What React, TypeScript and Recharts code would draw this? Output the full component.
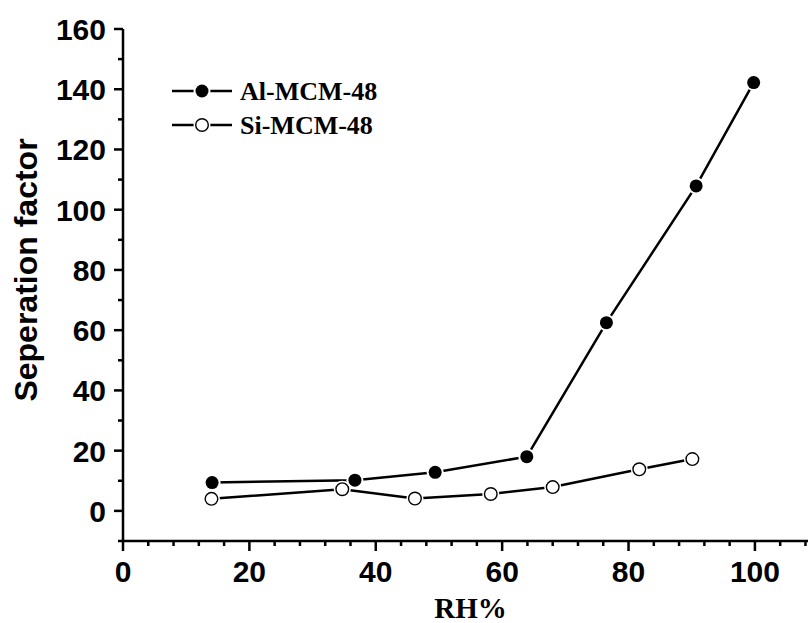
import { LineChart, Line, XAxis, YAxis, Legend, Label } from "recharts";

// Separation factor vs relative humidity for the two MCM-48 samples
const alRH = [14.1, 36.7, 49.4, 63.9, 76.5, 90.7, 99.8];
const alFactor = [9.4, 10.2, 12.8, 18.0, 62.5, 107.9, 142.2];
const siRH = [14.0, 34.7, 46.2, 58.2, 68.0, 81.7, 90.1];
const siFactor = [4.0, 7.2, 4.1, 5.6, 7.9, 13.8, 17.2];

const xTicks = [0, 4, 8, 12, 16, 20, 24, 28, 32, 36, 40, 44, 48, 52, 56, 60, 64, 68, 72, 76, 80, 84, 88, 92, 96, 100, 104, 108];
const xLabelled = [0, 20, 40, 60, 80, 100];
const yTicks = [-10, 0, 10, 20, 30, 40, 50, 60, 70, 80, 90, 100, 110, 120, 130, 140, 150, 160];
const yLabelled = [0, 20, 40, 60, 80, 100, 120, 140, 160];

const alData = alRH.map((rh, i) => ({ rh, factor: alFactor[i] }));
const siData = siRH.map((rh, i) => ({ rh, factor: siFactor[i] }));

const SANS = "'Liberation Sans', Arial, sans-serif";
const SERIF = "'Liberation Serif', 'Times New Roman', serif";
const INK = "#000";

function BottomTick({ x, y, payload }: any) {
  const major = xLabelled.includes(payload.value);
  return (
    <g>
      <line x1={x} x2={x} y1={y} y2={y + (major ? 10 : 5)} stroke={INK} strokeWidth={2.5} />
      {major && (
        <text x={x} y={y + 41} textAnchor="middle" fontFamily={SANS} fontWeight={700} fontSize={30} fill={INK}>
          {payload.value}
        </text>
      )}
    </g>
  );
}

function TopTick({ x, y }: any) {
  return <line x1={x} x2={x} y1={y} y2={y + 3} stroke={INK} strokeWidth={1.5} />;
}

function LeftTick({ x, y, payload }: any) {
  const major = yLabelled.includes(payload.value);
  return (
    <g>
      <line x1={x} x2={x - (major ? 9 : 5)} y1={y} y2={y} stroke={INK} strokeWidth={2.5} />
      {major && (
        <text x={x - 17} y={y + 11} textAnchor="end" fontFamily={SANS} fontWeight={700} fontSize={30} fill={INK}>
          {payload.value}
        </text>
      )}
    </g>
  );
}

function FilledDot(props: any) {
  const { cx, cy, index } = props;
  if (cx == null || cy == null) return null;
  return (
    <g key={`al-${index}`}>
      <circle cx={cx} cy={cy} r={8.5} fill="#fff" />
      <circle cx={cx} cy={cy} r={6.5} fill={INK} />
    </g>
  );
}

function OpenDot(props: any) {
  const { cx, cy, index } = props;
  if (cx == null || cy == null) return null;
  return (
    <g key={`si-${index}`}>
      <circle cx={cx} cy={cy} r={8.5} fill="#fff" />
      <circle cx={cx} cy={cy} r={6.3} fill="#fff" stroke={INK} strokeWidth={1.4} />
    </g>
  );
}

const filledSeries: Record<string, boolean> = { "Al-MCM-48": true, "Si-MCM-48": false };

function LegendBox({ payload }: any) {
  const items = payload ?? [];
  return (
    <svg width={240} height={70}>
      {items.map((entry: any, i: number) => {
        const cy = 17 + i * 34;
        const filled = filledSeries[entry.value];
        return (
          <g key={entry.value}>
            <line x1={0} x2={60} y1={cy} y2={cy} stroke={INK} strokeWidth={2.5} />
            <circle cx={30} cy={cy} r={8.5} fill="#fff" />
            {filled ? (
              <circle cx={30} cy={cy} r={6.5} fill={INK} />
            ) : (
              <circle cx={30} cy={cy} r={6.3} fill="#fff" stroke={INK} strokeWidth={1.4} />
            )}
            <text x={68} y={cy + 9} fontFamily={SERIF} fontWeight={700} fontSize={26} fill={INK}>
              {entry.value}
            </text>
          </g>
        );
      })}
    </svg>
  );
}

export default function App() {
  return (
    <div style={{ position: "absolute", left: 0, top: 0, background: "#fff" }}>
      <LineChart width={808} height={623} margin={{ top: 29, right: 0, left: 0, bottom: 0 }}>
        <XAxis
          xAxisId="bottom"
          type="number"
          dataKey="rh"
          domain={[0, 108.4]}
          ticks={xTicks}
          interval={0}
          allowDataOverflow
          height={82}
          tickSize={0}
          tickMargin={0}
          tickLine={false}
          axisLine={{ stroke: INK, strokeWidth: 2.5 }}
          tick={<BottomTick />}
        >
          <Label
            content={({ viewBox }: any) => (
              <text
                x={viewBox.x + viewBox.width / 2 + 5}
                y={viewBox.y + 77}
                textAnchor="middle"
                fontFamily={SERIF}
                fontWeight={700}
                fontSize={29}
                fill={INK}
              >
                RH%
              </text>
            )}
          />
        </XAxis>
        <XAxis
          xAxisId="top"
          orientation="top"
          type="number"
          dataKey="rh"
          domain={[0, 108.4]}
          ticks={xTicks}
          interval={0}
          allowDataOverflow
          height={0}
          tickSize={0}
          tickMargin={0}
          tickLine={false}
          axisLine={{ stroke: INK, strokeWidth: 2.5 }}
          tick={<TopTick />}
        />
        <YAxis
          type="number"
          domain={[-10, 160]}
          ticks={yTicks}
          interval={0}
          width={123}
          tickSize={0}
          tickMargin={0}
          tickLine={false}
          axisLine={{ stroke: INK, strokeWidth: 2.5 }}
          tick={<LeftTick />}
        >
          <Label
            content={({ viewBox }: any) => {
              const lx = viewBox.x + 37;
              const ly = viewBox.y + viewBox.height / 2 - 15;
              return (
                <text
                  x={lx}
                  y={ly}
                  transform={`rotate(-90, ${lx}, ${ly})`}
                  textAnchor="middle"
                  fontFamily={SANS}
                  fontWeight={700}
                  fontSize={32}
                  fill={INK}
                >
                  Seperation factor
                </text>
              );
            }}
          />
        </YAxis>
        <Legend
          layout="vertical"
          align="center"
          verticalAlign="middle"
          wrapperStyle={{ top: 74, left: 172, width: 240 }}
          content={<LegendBox />}
        />
        <Line
          xAxisId="bottom"
          data={alData}
          dataKey="factor"
          name="Al-MCM-48"
          type="linear"
          stroke={INK}
          strokeWidth={2.5}
          dot={FilledDot}
          activeDot={false}
          isAnimationActive={false}
        />
        <Line
          xAxisId="bottom"
          data={siData}
          dataKey="factor"
          name="Si-MCM-48"
          type="linear"
          stroke={INK}
          strokeWidth={2.5}
          dot={OpenDot}
          activeDot={false}
          isAnimationActive={false}
        />
      </LineChart>
    </div>
  );
}
